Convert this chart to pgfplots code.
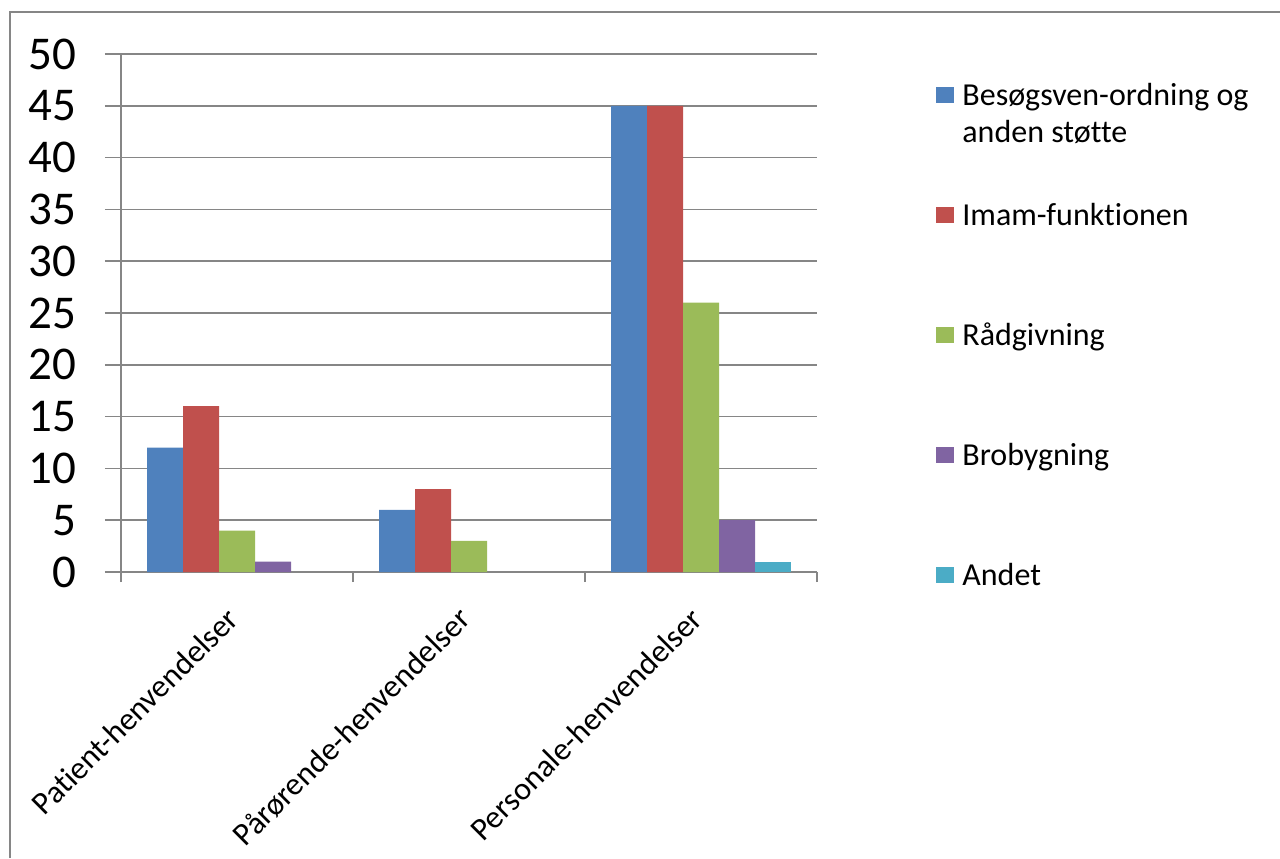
\documentclass[border=0pt]{standalone}
\usepackage{fontspec}
\setmainfont{Carlito}[Ligatures=NoCommon]
\usepackage{pgfplots}
\pgfplotsset{compat=1.18}
\definecolor{c1}{HTML}{4F81BD}
\definecolor{c2}{HTML}{C0504D}
\definecolor{c3}{HTML}{9BBB59}
\definecolor{c4}{HTML}{8064A2}
\definecolor{c5}{HTML}{4BACC6}
\definecolor{gridgray}{RGB}{134,134,134}
\begin{document}
\begin{tikzpicture}
\useasboundingbox (0,0) rectangle (640pt,429pt);
\draw[gridgray, line width=1pt] (5pt,0pt) -- (5pt,423pt) -- (640pt,423pt);
\begin{axis}[
  at={(60.5pt,143pt)}, anchor=south west,
  scale only axis, width=348pt, height=259pt,
  xmin=-0.5, xmax=2.5, ymin=0, ymax=50,
  axis lines*=left,
  axis line style={gridgray, line width=0.75pt},
  ytick={0,5,...,50},
  ymajorgrids, grid style={gridgray, line width=0.75pt},
  tick align=outside,
  major tick length=8pt,
  ytick style={gridgray, line width=0.75pt},
  xtick={0,1,2},
  xticklabels={Patient-henvendelser,Pårørende-henvendelser,Personale-henvendelser},
  major x tick style={draw=none},
  minor xtick={-0.5,0.5,1.5,2.5},
  minor tick length=5pt,
  minor x tick style={gridgray, line width=0.75pt},
  /pgf/number format/assume math mode=true,
  yticklabel style={font=\fontsize{23.5}{28}\selectfont, xshift=-11pt},
  xticklabel style={font=\fontsize{16}{19}\selectfont, rotate=45, anchor=east, xshift=-7pt, yshift=-7.5pt},
  ybar=0pt, bar width=18pt,
  legend style={draw=none, fill=none, at={(1.171,0.9479)}, anchor=north west,
    inner sep=0pt, row sep=0pt, column sep=4pt,
    font=\fontsize{16}{18.6}\selectfont,
    nodes={inner sep=0pt, text height=12pt, text depth=48pt, anchor=base west}},
  legend cell align=left,
  legend image code/.code={\fill[#1] (0pt,1pt) rectangle (9pt,9pt);},
]
\addplot[fill=c1, draw=none] coordinates {(0,12) (1,6) (2,45)};
\addlegendentry{\vtop{\hbox{Besøgsven-ordning og}\hbox{anden støtte}}}
\addplot[fill=c2, draw=none] coordinates {(0,16) (1,8) (2,45)};
\addlegendentry{Imam-funktionen}
\addplot[fill=c3, draw=none] coordinates {(0,4) (1,3) (2,26)};
\addlegendentry{Rådgivning}
\addplot[fill=c4, draw=none] coordinates {(0,1) (2,5)};
\addlegendentry{Brobygning}
\addplot[fill=c5, draw=none] coordinates {(2,1)};
\addlegendentry{Andet}
\end{axis}
\end{tikzpicture}
\end{document}
